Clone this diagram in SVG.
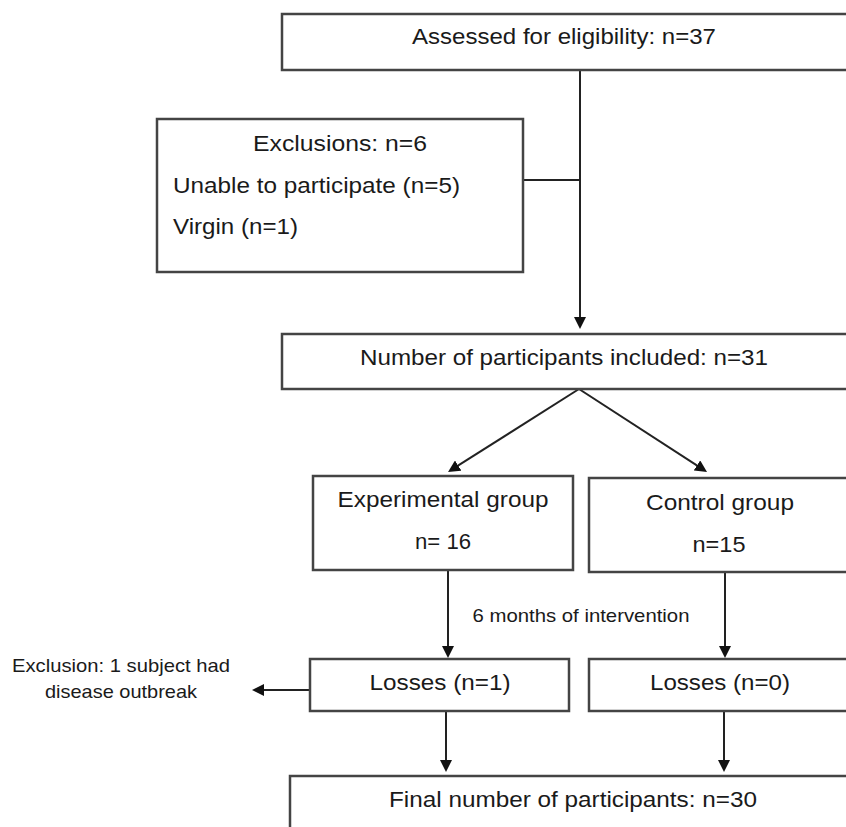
<svg xmlns="http://www.w3.org/2000/svg" width="846" height="827" viewBox="0 0 846 827">
<defs>
<style>
.box{fill:#fff;stroke:#444;stroke-width:2.5}
.t{font-family:"Liberation Sans",Arial,Helvetica,sans-serif;font-size:22.5px;fill:#1a1a1a}
.s{font-family:"Liberation Sans",Arial,Helvetica,sans-serif;font-size:19px;fill:#1a1a1a}
.c{text-anchor:middle}
.ln{fill:none;stroke:#222;stroke-width:2}
</style>
<marker id="ah" markerUnits="userSpaceOnUse" markerWidth="12" markerHeight="12" refX="4" refY="6" orient="auto">
<path d="M0,0 L12,6 L0,12 z" fill="#111"/>
</marker>
</defs>
<rect width="846" height="827" fill="#fff"/>
<g id="connectors">
<line class="ln" x1="580" y1="70" x2="580" y2="321" marker-end="url(#ah)"/>
<line class="ln" x1="523" y1="180" x2="580" y2="180"/>
<line class="ln" x1="579" y1="389" x2="454.8" y2="467.7" marker-end="url(#ah)"/>
<line class="ln" x1="579" y1="389" x2="700.3" y2="467.6" marker-end="url(#ah)"/>
<line class="ln" x1="448" y1="570" x2="448" y2="650" marker-end="url(#ah)"/>
<line class="ln" x1="725" y1="572" x2="725" y2="650" marker-end="url(#ah)"/>
<line class="ln" x1="310" y1="690" x2="260" y2="690" marker-end="url(#ah)"/>
<line class="ln" x1="446" y1="711" x2="446" y2="764" marker-end="url(#ah)"/>
<line class="ln" x1="724" y1="711" x2="724" y2="764" marker-end="url(#ah)"/>
</g>
<g id="assessed">
<rect class="box" x="282" y="14" width="570" height="56"/>
<text class="t c" x="564" y="44" textLength="304" lengthAdjust="spacingAndGlyphs">Assessed for eligibility: n=37</text>
</g>
<g id="exclusions">
<rect class="box" x="157" y="119" width="366" height="153"/>
<text class="t c" x="340" y="151" textLength="174" lengthAdjust="spacingAndGlyphs">Exclusions: n=6</text>
<text class="t" x="173" y="193" textLength="287" lengthAdjust="spacingAndGlyphs">Unable to participate (n=5)</text>
<text class="t" x="173" y="234" textLength="125" lengthAdjust="spacingAndGlyphs">Virgin (n=1)</text>
</g>
<g id="included">
<rect class="box" x="282" y="334" width="570" height="55"/>
<text class="t c" x="564" y="365" textLength="408" lengthAdjust="spacingAndGlyphs">Number of participants included: n=31</text>
</g>
<g id="experimental">
<rect class="box" x="313" y="476" width="260" height="94"/>
<text class="t c" x="443" y="507" textLength="211" lengthAdjust="spacingAndGlyphs">Experimental group</text>
<text class="t c" x="443" y="549" textLength="56" lengthAdjust="spacingAndGlyphs">n= 16</text>
</g>
<g id="control">
<rect class="box" x="589" y="478" width="262" height="94"/>
<text class="t c" x="720" y="510" textLength="148" lengthAdjust="spacingAndGlyphs">Control group</text>
<text class="t c" x="719" y="552" textLength="53" lengthAdjust="spacingAndGlyphs">n=15</text>
</g>
<g id="intervention-label">
<text class="s c" x="581" y="622" textLength="217" lengthAdjust="spacingAndGlyphs">6 months of intervention</text>
</g>
<g id="exclusion-outbreak">
<text class="s c" x="121" y="672" textLength="218" lengthAdjust="spacingAndGlyphs">Exclusion: 1 subject had</text>
<text class="s c" x="121" y="698" textLength="152" lengthAdjust="spacingAndGlyphs">disease outbreak</text>
</g>
<g id="losses-exp">
<rect class="box" x="310" y="659" width="259" height="52"/>
<text class="t c" x="440" y="690" textLength="141" lengthAdjust="spacingAndGlyphs">Losses (n=1)</text>
</g>
<g id="losses-ctrl">
<rect class="box" x="589" y="659" width="270" height="52"/>
<text class="t c" x="720" y="690" textLength="140" lengthAdjust="spacingAndGlyphs">Losses (n=0)</text>
</g>
<g id="final">
<rect class="box" x="290" y="776" width="570" height="70"/>
<text class="t c" x="573" y="807" textLength="368" lengthAdjust="spacingAndGlyphs">Final number of participants: n=30</text>
</g>
</svg>
